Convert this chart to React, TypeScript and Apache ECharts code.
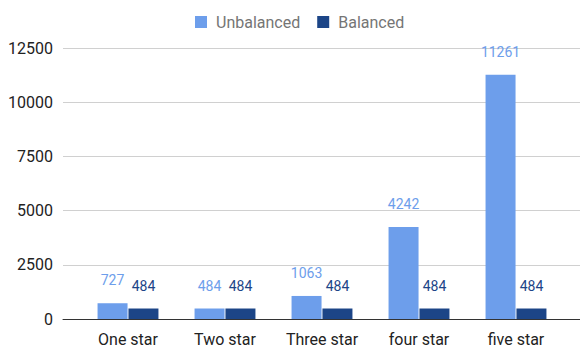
import React, { useEffect, useRef } from "react";
import * as echarts from "echarts";

const categories = ["One star", "Two star", "Three star", "four star", "five star"];
const unbalanced = [727, 484, 1063, 4242, 11261];
const balanced = [484, 484, 484, 484, 484];
const yTicks = { min: 0, max: 12500, interval: 2500 };

export default function App() {
  const ref = useRef<HTMLDivElement>(null);
  useEffect(() => {
    const chart = echarts.init(ref.current!, null, { renderer: "svg" });
    const font = "Roboto, Arial, sans-serif";
    chart.setOption({
      animation: false,
      textStyle: { fontFamily: font },
      legend: {
        top: 9,
        left: 190,
        itemWidth: 12,
        itemHeight: 12,
        itemGap: 17,
        icon: "rect",
        textStyle: { color: "#757575", fontSize: 16, fontFamily: font, padding: [0, 0, 0, 4] },
        data: ["Unbalanced", "Balanced"],
      },
      grid: [
        { left: 63, right: 0, top: 48, bottom: 29 },
        { left: 79.5, right: 15.5, top: 48, bottom: 29 },
      ],
      xAxis: [
        {
          gridIndex: 0,
          type: "value",
          min: 0,
          max: 1,
          axisLine: { show: true, lineStyle: { color: "#333", width: 1 } },
          axisTick: { show: false },
          axisLabel: { show: false },
          splitLine: { show: false },
          z: 5,
        },
        {
          gridIndex: 1,
          type: "category",
          data: categories,
          axisLine: { show: false },
          axisTick: { show: false },
          axisLabel: { color: "#222", fontSize: 16, margin: 12, fontFamily: font },
        },
      ],
      yAxis: [
        {
          gridIndex: 0,
          type: "value",
          ...yTicks,
          axisLine: { show: false },
          axisTick: { show: false },
          axisLabel: {
            color: "#222",
            fontSize: 16,
            margin: 10,
            fontFamily: font,
            formatter: (v: number) => String(v),
          },
          splitLine: { lineStyle: { color: "#d0d0d0", width: 1 } },
        },
        {
          gridIndex: 1,
          type: "value",
          ...yTicks,
          show: false,
          splitLine: { show: false },
        },
      ],
      series: [
        {
          name: "Unbalanced",
          type: "bar",
          xAxisIndex: 1,
          yAxisIndex: 1,
          data: unbalanced,
          barWidth: 30,
          barGap: "3%",
          itemStyle: { color: "#6d9eeb" },
          label: { show: true, position: "top", distance: 16, color: "#6d9eeb", fontSize: 14, fontFamily: font },
        },
        {
          name: "Balanced",
          type: "bar",
          xAxisIndex: 1,
          yAxisIndex: 1,
          data: balanced,
          barWidth: 30,
          barGap: "3%",
          itemStyle: { color: "#1c4587" },
          label: { show: true, position: "top", distance: 16, color: "#1c4587", fontSize: 14, fontFamily: font },
        },
      ],
    });
    return () => chart.dispose();
  }, []);
  return <div ref={ref} style={{ width: 580, height: 348, position: "absolute", left: 0, top: 0 }} />;
}
